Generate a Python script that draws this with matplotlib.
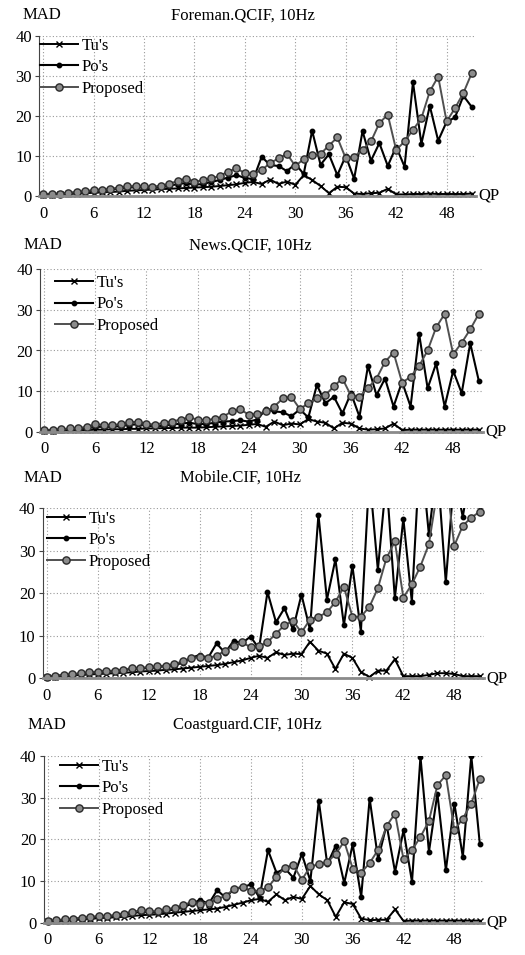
import numpy as np
import matplotlib.pyplot as plt
from matplotlib.patches import Rectangle

plt.rcParams['font.family'] = ['Liberation Serif', 'DejaVu Serif']

qp = np.arange(52)
xtick_vals = [0, 6, 12, 18, 24, 30, 36, 42, 48]
ytick_vals = [0, 10, 20, 30, 40]
series_names = ["Tu's", "Po's", "Proposed"]
titles = ["Foreman.QCIF, 10Hz", "News.QCIF, 10Hz", "Mobile.CIF, 10Hz", "Coastguard.CIF, 10Hz"]

# Foreman
tu_foreman = [0.2, 0.3, 0.4, 0.5, 0.6, 0.7, 0.8, 0.9, 1.0, 1.1, 1.3, 1.4, 1.5, 1.6, 1.7, 1.8, 1.9, 2.0, 2.1, 2.2,
              2.3, 2.5, 2.7, 2.9, 3.3, 3.5, 3.0, 4.1, 3.0, 3.6, 2.8, 5.2, 4.0, 2.5, 0.7, 2.3, 2.2, 0.6, 0.5, 0.7,
              0.8, 1.8, 0.4, 0.4, 0.5, 0.5, 0.6, 0.5, 0.5, 0.5, 0.5, 0.6]
po_foreman = [0.4, 0.5, 0.6, 0.7, 0.9, 1.1, 1.3, 1.4, 1.6, 1.9, 2.1, 2.2, 2.1, 2.0, 2.3, 2.5, 3.0, 3.2, 2.8, 3.0,
              3.5, 4.0, 4.6, 5.2, 4.5, 4.2, 9.8, 7.7, 7.5, 6.2, 8.0, 5.5, 16.3, 7.8, 10.4, 5.2, 10.0, 4.3, 16.2, 8.8,
              13.2, 7.5, 12.3, 7.3, 28.4, 13.0, 22.5, 13.8, 18.5, 19.6, 25.0, 22.2]
pr_foreman = [0.4, 0.5, 0.6, 0.8, 1.0, 1.2, 1.5, 1.6, 1.8, 2.1, 2.4, 2.5, 2.4, 2.3, 2.6, 3.0, 3.8, 4.3, 3.6, 3.9,
              4.4, 5.0, 6.1, 6.9, 5.7, 5.5, 6.5, 8.2, 9.4, 10.5, 7.5, 9.2, 10.2, 10.5, 12.6, 14.6, 9.4, 9.8, 11.5, 13.6,
              18.2, 20.3, 11.5, 13.6, 16.5, 19.4, 26.1, 29.8, 18.6, 21.9, 25.7, 30.7]

# News
tu_news = [0.2, 0.2, 0.3, 0.3, 0.4, 0.4, 0.5, 0.5, 0.6, 0.6, 0.7, 0.7, 0.8, 0.8, 0.9, 0.9, 1.0, 1.0, 1.0, 1.1,
           1.2, 1.3, 1.4, 1.5, 1.7, 1.9, 1.2, 2.5, 1.6, 2.0, 1.8, 3.1, 2.5, 2.2, 0.8, 2.2, 2.0, 0.8, 0.5, 0.6,
           0.8, 2.0, 0.4, 0.5, 0.5, 0.5, 0.5, 0.5, 0.5, 0.5, 0.5, 0.5]
po_news = [0.3, 0.4, 0.5, 0.6, 0.7, 0.9, 1.2, 1.2, 1.2, 1.4, 1.7, 1.8, 1.5, 1.3, 1.5, 1.7, 2.0, 2.2, 1.9, 1.9,
           2.2, 2.5, 2.6, 2.8, 2.5, 3.0, 5.5, 5.0, 4.8, 3.8, 5.5, 3.5, 11.5, 7.0, 8.6, 4.5, 9.5, 3.7, 16.2, 9.0,
           13.1, 6.2, 12.3, 6.2, 24.1, 10.7, 16.8, 6.2, 15.0, 9.5, 21.8, 12.6]
pr_news = [0.3, 0.5, 0.6, 0.8, 0.9, 1.2, 1.8, 1.7, 1.6, 1.9, 2.4, 2.4, 2.0, 1.7, 2.2, 2.5, 3.0, 3.5, 3.0, 2.8,
           3.2, 3.7, 5.0, 5.5, 4.2, 4.3, 5.0, 6.2, 8.2, 8.6, 5.6, 7.0, 8.2, 9.0, 11.2, 13.1, 8.9, 8.6, 10.8, 13.1,
           17.2, 19.5, 12.1, 13.5, 16.2, 20.0, 25.7, 29.0, 19.1, 21.9, 25.2, 29.0]

# Mobile
tu_mobile = [0.3, 0.4, 0.5, 0.6, 0.8, 0.9, 1.0, 1.1, 1.2, 1.3, 1.4, 1.6, 1.7, 1.8, 2.0, 2.1, 2.3, 2.5, 2.7, 2.9,
             3.1, 3.4, 3.8, 4.2, 4.8, 5.3, 4.8, 6.1, 5.5, 5.8, 5.7, 8.6, 6.5, 5.8, 2.2, 5.8, 4.8, 1.5, 0.3, 1.8,
             1.8, 4.5, 0.5, 0.5, 0.5, 0.8, 1.2, 1.2, 1.0, 0.5, 0.5, 0.5]
po_mobile = [0.4, 0.6, 0.7, 0.9, 1.1, 1.3, 1.5, 1.6, 1.7, 1.9, 2.2, 2.4, 2.4, 2.6, 2.9, 3.0, 3.7, 4.8, 5.5, 4.8,
             8.2, 6.0, 8.8, 8.3, 9.8, 7.0, 20.3, 13.2, 16.5, 11.5, 19.7, 11.5, 38.5, 18.5, 28.0, 12.5, 26.5, 11.0, 48.0, 25.5,
             47.0, 18.8, 37.6, 18.0, 55.0, 34.0, 50.0, 22.6, 48.0, 38.0, 50.0, 40.5]
pr_mobile = [0.4, 0.6, 0.8, 1.0, 1.2, 1.4, 1.6, 1.7, 1.8, 2.0, 2.4, 2.5, 2.6, 2.8, 3.0, 3.3, 4.0, 4.7, 5.0, 4.8,
             5.3, 6.5, 7.5, 8.5, 7.3, 7.5, 8.5, 10.5, 12.5, 13.5, 10.8, 13.8, 14.5, 15.5, 18.0, 21.5, 14.5, 14.5, 16.8, 21.2,
             28.2, 32.2, 19.0, 22.1, 26.3, 31.5, 44.0, 48.0, 31.2, 35.9, 37.8, 39.2]

# Coastguard
tu_coast = [0.3, 0.4, 0.5, 0.6, 0.8, 0.9, 1.1, 1.2, 1.3, 1.4, 1.6, 1.8, 1.9, 2.0, 2.2, 2.4, 2.6, 2.8, 3.0, 3.2,
            3.4, 3.8, 4.3, 4.8, 5.4, 5.7, 5.0, 6.8, 5.4, 6.2, 5.7, 8.8, 6.8, 5.4, 1.4, 4.9, 4.5, 1.0, 0.6, 0.7,
            0.7, 3.2, 0.4, 0.5, 0.5, 0.5, 0.5, 0.5, 0.5, 0.5, 0.5, 0.5]
po_coast = [0.4, 0.5, 0.7, 0.9, 1.0, 1.2, 1.4, 1.5, 1.6, 1.9, 2.3, 2.6, 2.5, 2.4, 2.8, 3.2, 3.8, 4.5, 5.5, 4.5,
            7.8, 6.0, 8.2, 8.5, 9.2, 6.0, 17.4, 12.0, 13.0, 10.8, 16.5, 10.0, 29.2, 14.0, 18.5, 9.5, 18.8, 6.2, 29.8, 15.2,
            23.5, 12.2, 22.2, 9.8, 39.8, 17.0, 31.0, 12.6, 28.6, 15.8, 40.0, 19.0]
pr_coast = [0.4, 0.6, 0.8, 1.0, 1.2, 1.4, 1.6, 1.7, 1.8, 2.2, 2.6, 3.0, 2.8, 2.7, 3.2, 3.6, 4.2, 5.0, 4.6, 4.8,
            5.6, 6.5, 8.0, 8.6, 7.6, 7.6, 8.5, 11.0, 13.2, 13.8, 10.3, 13.5, 14.0, 14.5, 16.5, 19.5, 13.0, 12.0, 14.3, 17.5,
            23.2, 26.2, 15.2, 17.4, 20.6, 24.4, 33.0, 35.4, 22.2, 25.0, 28.6, 34.4]

tu_all = [tu_foreman, tu_news, tu_mobile, tu_coast]
po_all = [po_foreman, po_news, po_mobile, po_coast]
pr_all = [pr_foreman, pr_news, pr_mobile, pr_coast]

W, H = 525, 955
fig = plt.figure(figsize=(W / 100, H / 100), dpi=100)

# plot boxes in pixels (left, top, right, bottom)
boxes = [(39, 35.7, 476, 196), (40, 269.3, 483, 431.7), (42.5, 508.3, 484, 678.3), (43.5, 756, 484, 922.7)]
mad_xy = [(42, 15), (43, 245), (43, 478), (47, 725)]
title_xy = [(243, 15), (250, 245), (240, 478), (247, 725)]
legend_xy = [(40, 38), (55, 275), (47, 511), (60, 759)]

for i in range(4):
    l, t, r, b = boxes[i]
    ax = fig.add_axes([l / W, 1 - b / H, (r - l) / W, (b - t) / H])

    # clip region: let markers near 0 sit on the axis, cut lines at 40
    clip = Rectangle((-0.05, -0.1), 1.1, 1.1, transform=ax.transAxes, visible=False)

    lines = []
    lines += ax.plot(qp, tu_all[i], color='black', lw=1.4, marker='x', ms=4.5, mew=1.0, label=series_names[0])
    lines += ax.plot(qp, po_all[i], color='black', lw=1.5, marker='o', ms=3.2, label=series_names[1])
    lines += ax.plot(qp, pr_all[i], color='#505050', lw=1.4, marker='o', ms=5.2,
                     mfc='#8c8c8c', mec='#2a2a2a', mew=1.0, label=series_names[2])
    for ln in lines:
        ln.set_clip_path(clip)

    ax.set_xlim(-0.5, 51.5)
    ax.set_ylim(0, 40)
    ax.set_xticks(xtick_vals)
    ax.set_yticks(ytick_vals)
    ax.grid(True, color='#999999', ls=(0, (1, 2)), lw=0.8)
    ax.set_axisbelow(True)
    ax.spines['top'].set_visible(False)
    ax.spines['right'].set_visible(False)
    ax.spines['left'].set_color('#444444')
    ax.spines['bottom'].set_color('#8a8a8a')
    ax.spines['bottom'].set_linewidth(2)
    ax.tick_params(axis='x', length=0, pad=7, labelsize=12)
    ax.tick_params(axis='y', length=3, pad=2, labelsize=12, color='#444444')

    ax.text(1.005, 0, 'QP', transform=ax.transAxes, ha='left', va='center', fontsize=12)
    fig.text(mad_xy[i][0] / W, 1 - mad_xy[i][1] / H, 'MAD', ha='center', va='center', fontsize=12)
    fig.text(title_xy[i][0] / W, 1 - title_xy[i][1] / H, titles[i], ha='center', va='center', fontsize=12)

    ax.legend(loc='upper left', bbox_to_anchor=(legend_xy[i][0] / W, 1 - legend_xy[i][1] / H),
              bbox_transform=fig.transFigure, frameon=False, borderpad=0, borderaxespad=0,
              handlelength=2.3, handletextpad=0.2, labelspacing=0.32, fontsize=12)

fig.savefig('out.png', dpi=100)
